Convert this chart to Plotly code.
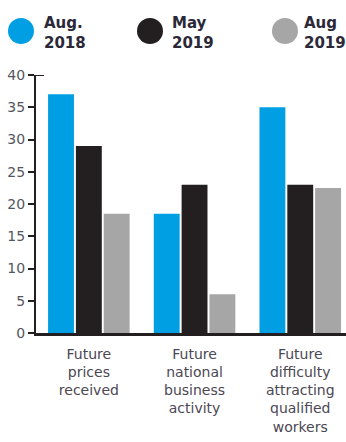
import plotly.graph_objects as go

# Survey indicators, three readings each
categories = [
    "Future<br>prices<br>received",
    "Future<br>national<br>business<br>activity",
    "Future<br>difficulty<br>attracting<br>qualified<br>workers",
]
series_names = ["Aug.<br>2018", "May<br>2019", "Aug<br>2019"]
aug_2018 = [37, 18.5, 35]
may_2019 = [29, 23, 23]
aug_2019 = [18.5, 6, 22.5]
y_ticks = [0, 5, 10, 15, 20, 25, 30, 35, 40]

colors = ["#009fe3", "#231f20", "#a6a6a6"]
values = [aug_2018, may_2019, aug_2019]

W, H = 346, 442
ML, MR, MT, MB = 36, 0, 75, 109
plot_w = W - ML - MR
plot_h = H - MT - MB

fig = go.Figure()
for name, vals, col in zip(series_names, values, colors):
    fig.add_trace(go.Bar(
        x=list(range(len(categories))), y=vals, name=name,
        marker=dict(color=col, line=dict(width=0)),
        showlegend=False,
    ))

# x range chosen so one category spans ~106 px
x_max = -0.5 + plot_w / 105.7


def px_x(px):
    return (px - ML) / plot_w


def px_y(py):
    return (H - MB - py) / plot_h


shapes = []
annotations = []
# Custom legend: filled circles with two-line labels
legend_cx = [21, 150, 285]
legend_tx = [42, 170, 302]
for name, col, cx, tx in zip(series_names, colors, legend_cx, legend_tx):
    shapes.append(dict(
        type="circle", xref="paper", yref="paper",
        xsizemode="pixel", ysizemode="pixel",
        xanchor=px_x(cx), yanchor=px_y(31),
        x0=-13, x1=13, y0=-13, y1=13,
        fillcolor=col, line=dict(width=0),
    ))
    annotations.append(dict(
        text="<b>" + name.replace("<br>", "</b><br><b>") + "</b>",
        xref="paper", yref="paper", x=px_x(tx), y=px_y(33),
        xanchor="left", yanchor="middle", align="left", showarrow=False,
        font=dict(family="DejaVu Sans", size=15, color="#2b2838"),
    ))

# Short cap at the top of the value axis
shapes.append(dict(
    type="line", xref="paper", yref="y", xsizemode="pixel",
    xanchor=0, x0=-6, x1=8, y0=40, y1=40,
    line=dict(color="#231f20", width=2),
))

fig.update_layout(
    width=W, height=H,
    margin=dict(l=ML, r=MR, t=MT, b=MB, pad=0),
    paper_bgcolor="white", plot_bgcolor="white",
    barmode="group", bargap=0.21, bargroupgap=0.07,
    shapes=shapes, annotations=annotations,
    font=dict(family="DejaVu Sans"),
)
fig.update_xaxes(
    range=[-0.5, x_max], tickmode="array",
    tickvals=list(range(len(categories))), ticktext=categories,
    tickson="boundaries", ticks="inside", ticklen=6, tickwidth=2,
    tickcolor="#231f20", ticklabelstandoff=6,
    showline=True, linecolor="#231f20", linewidth=3,
    showgrid=False, zeroline=False,
    tickfont=dict(family="DejaVu Sans", size=14, color="#4b4753"),
)
fig.update_yaxes(
    range=[0, 40], tickmode="array", tickvals=y_ticks,
    ticks="outside", ticklen=6, tickwidth=2, tickcolor="#231f20",
    showline=True, linecolor="#231f20", linewidth=2,
    showgrid=False, zeroline=False,
    tickfont=dict(family="DejaVu Sans", size=14, color="#55555f"),
)

fig.write_html("out.html")
